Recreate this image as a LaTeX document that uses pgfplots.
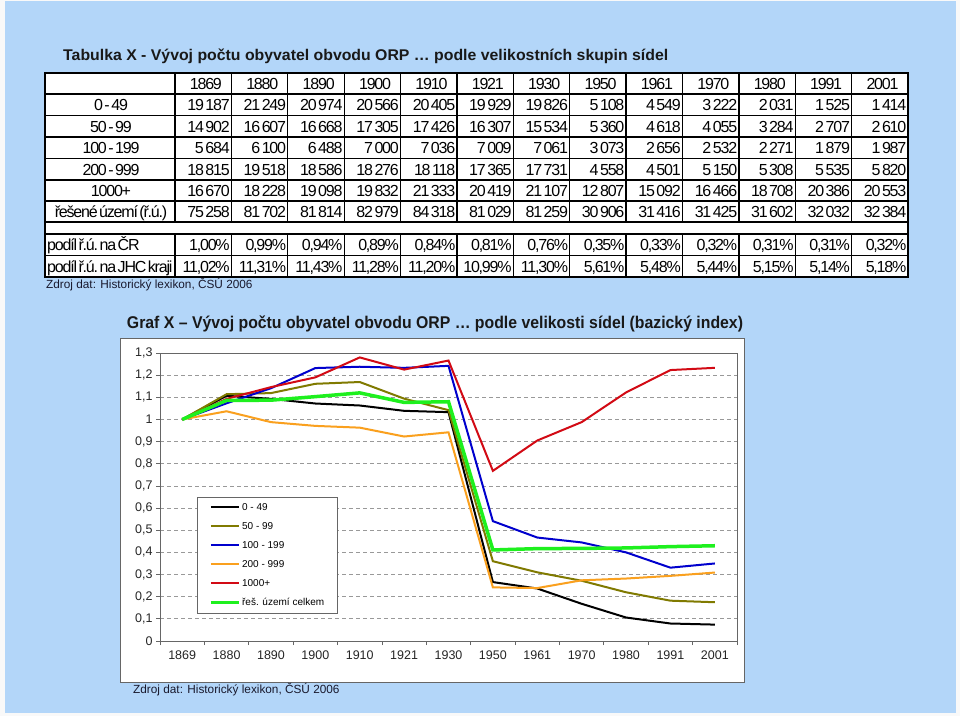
\documentclass[border=0pt]{standalone}
\usepackage{pgfplots}
\pgfplotsset{compat=1.18}
\usepackage{fontspec}
\setmainfont{Liberation Sans}
\newfontfamily\tabfont[LetterSpace=-7.5]{Liberation Sans}
\definecolor{bgblue}{RGB}{179,214,249}
\definecolor{srcc}{RGB}{25,25,45}
\definecolor{cblack}{RGB}{0,0,0}
\definecolor{colive}{RGB}{128,122,0}
\definecolor{cblue}{RGB}{0,0,205}
\definecolor{corange}{RGB}{250,160,30}
\definecolor{cred}{RGB}{210,10,20}
\definecolor{cgreen}{RGB}{30,240,30}
\newcommand\s{\kern1.5pt}
\newcommand\tabrow[2]{%
  \foreach \v [count=\i] in {#2} {\node[anchor=base east, inner sep=0pt] at ({(175+56.385*\i-1.5)*1pt},#1pt) {\v};}}
\begin{document}
\begin{tikzpicture}
\useasboundingbox (0pt,0pt) rectangle (960pt,716pt);
\fill[white!95!gray] (0pt,0pt) rectangle (960pt,716pt);
\fill[bgblue] (5pt,3pt) rectangle (956pt,715pt);
% table title
\node[anchor=west, inner sep=0pt, text=black!90] at (63pt,660pt) {\resizebox{605pt}{\height}{\fontsize{15.5}{18}\selectfont\bfseries Tabulka X - Vývoj počtu obyvatel obvodu ORP … podle velikostních skupin sídel}};
% table
\fill[white] (45pt,439pt) rectangle (908pt,643pt);
\foreach \yy in {622,600.5,579,557.5,536,515,494,482,460.5}
  \draw[line width=1.3pt] (45pt,\yy pt) -- (908pt,\yy pt);
\foreach \k in {0,...,12} {
  \draw[line width=1.3pt] ({(175+56.385*\k)*1pt},643pt) -- ({(175+56.385*\k)*1pt},494pt);
  \draw[line width=1.3pt] ({(175+56.385*\k)*1pt},482pt) -- ({(175+56.385*\k)*1pt},439pt);
}
\draw[line width=2pt] (45pt,439pt) rectangle (908pt,643pt);
\begin{scope}[every node/.append style={font=\tabfont\fontsize{16}{18}\selectfont}]
\foreach \yr [count=\i] in {1869,1880,1890,1900,1910,1921,1930,1950,1961,1970,1980,1991,2001}
  \node[anchor=base, inner sep=0pt] at ({(175+56.385*\i-25.5)*1pt},626.7pt) {\yr};
\node[anchor=base, inner sep=0pt] at (111pt,605.4pt) {0\s-\s49};
\node[anchor=base, inner sep=0pt] at (111pt,583.9pt) {50\s-\s99};
\node[anchor=base, inner sep=0pt] at (111pt,562.4pt) {100\s-\s199};
\node[anchor=base, inner sep=0pt] at (111pt,540.9pt) {200\s-\s999};
\node[anchor=base, inner sep=0pt] at (111pt,519.7pt) {1000+};
\node[anchor=base, inner sep=0pt] at (111pt,498.7pt) {řešené\s území\s (ř.ú.)};
\node[anchor=base west, inner sep=0pt] at (47pt,465.4pt) {podíl\s ř.ú.\s na\s ČR};
\node[anchor=base west, inner sep=0pt] at (47pt,443.9pt) {podíl\s ř.ú.\s na\s JHC\s kraji};
\tabrow{605.4}{19\s187,21\s249,20\s974,20\s566,20\s405,19\s929,19\s826,5\s108,4\s549,3\s222,2\s031,1\s525,1\s414}
\tabrow{583.9}{14\s902,16\s607,16\s668,17\s305,17\s426,16\s307,15\s534,5\s360,4\s618,4\s055,3\s284,2\s707,2\s610}
\tabrow{562.4}{5\s684,6\s100,6\s488,7\s000,7\s036,7\s009,7\s061,3\s073,2\s656,2\s532,2\s271,1\s879,1\s987}
\tabrow{540.9}{18\s815,19\s518,18\s586,18\s276,18\s118,17\s365,17\s731,4\s558,4\s501,5\s150,5\s308,5\s535,5\s820}
\tabrow{519.7}{16\s670,18\s228,19\s098,19\s832,21\s333,20\s419,21\s107,12\s807,15\s092,16\s466,18\s708,20\s386,20\s553}
\tabrow{498.7}{75\s258,81\s702,81\s814,82\s979,84\s318,81\s029,81\s259,30\s906,31\s416,31\s425,31\s602,32\s032,32\s384}
\tabrow{465.4}{{1,00\%},{0,99\%},{0,94\%},{0,89\%},{0,84\%},{0,81\%},{0,76\%},{0,35\%},{0,33\%},{0,32\%},{0,31\%},{0,31\%},{0,32\%}}
\tabrow{443.9}{{11,02\%},{11,31\%},{11,43\%},{11,28\%},{11,20\%},{10,99\%},{11,30\%},{5,61\%},{5,48\%},{5,44\%},{5,15\%},{5,14\%},{5,18\%}}
\end{scope}
\node[anchor=west, inner sep=0pt, text=srcc, font=\fontsize{11.8}{14}\selectfont] at (46pt,431pt) {Zdroj dat: Historický lexikon, ČSÚ 2006};
% chart
\node[inner sep=0pt, text=black!90] at (435pt,392pt) {\resizebox{616pt}{\height}{\fontsize{17}{20}\selectfont\bfseries Graf X – Vývoj počtu obyvatel obvodu ORP … podle velikosti sídel (bazický index)}};
\filldraw[fill=white, draw=gray!80!black, line width=1pt] (120pt,34pt) rectangle (744pt,378pt);
\begin{axis}[
  at={(160pt,75pt)}, anchor=south west, scale only axis,
  width=577pt, height=288pt,
  xmin=-0.5, xmax=12.5, ymin=0, ymax=1.3,
  xtick={0,...,12},
  xticklabels={1869,1880,1890,1900,1910,1921,1930,1950,1961,1970,1980,1991,2001},
  minor xtick={-0.5,0.5,...,12.5},
  ytick={0,0.1,0.2,0.3,0.4,0.5,0.6,0.7,0.8,0.9,1,1.1,1.2,1.3},
  xtick pos=left, ytick pos=left,
  tick align=outside, major tick length=4pt, minor tick length=4pt,
  major x tick style={draw=none},
  tick style={gray!80!black, line width=0.8pt},
  axis line style={gray!80!black, line width=0.8pt},
  ymajorgrids, grid style={dash pattern=on 4pt off 3pt, gray!80, line width=0.8pt},
  /pgf/number format/assume math mode=true,
  yticklabel style={/pgf/number format/.cd, fixed, precision=1, use comma},
  tick label style={font=\fontsize{12.5}{14}\selectfont, text=black!85},
  xticklabel style={yshift=-2pt},
  legend style={at={(0.064,0.5)}, anchor=north west, draw=gray!80!black, fill=white,
    font=\fontsize{10}{12}\selectfont, inner xsep=12pt, inner ysep=4pt, row sep=6.5pt,
    nodes={inner sep=1.5pt, text height=7.5pt, text depth=2pt}},
  legend cell align=left,
  legend image code/.code={\draw[#1] (0pt,0pt) -- (28pt,0pt);},
]
\addplot[cblack, line width=2pt] coordinates {(0,1) (1,1.107) (2,1.093) (3,1.072) (4,1.063) (5,1.039) (6,1.033) (7,0.266) (8,0.237) (9,0.168) (10,0.106) (11,0.079) (12,0.074)};
\addlegendentry{0 - 49}
\addplot[colive, line width=2pt] coordinates {(0,1) (1,1.114) (2,1.119) (3,1.161) (4,1.169) (5,1.094) (6,1.042) (7,0.360) (8,0.310) (9,0.272) (10,0.220) (11,0.182) (12,0.175)};
\addlegendentry{50 - 99}
\addplot[cblue, line width=2pt] coordinates {(0,1) (1,1.073) (2,1.141) (3,1.232) (4,1.238) (5,1.233) (6,1.242) (7,0.541) (8,0.467) (9,0.445) (10,0.400) (11,0.331) (12,0.350)};
\addlegendentry{100 - 199}
\addplot[corange, line width=2pt] coordinates {(0,1) (1,1.037) (2,0.988) (3,0.971) (4,0.963) (5,0.923) (6,0.942) (7,0.242) (8,0.239) (9,0.274) (10,0.282) (11,0.294) (12,0.309)};
\addlegendentry{200 - 999}
\addplot[cred, line width=2pt] coordinates {(0,1) (1,1.093) (2,1.146) (3,1.190) (4,1.280) (5,1.225) (6,1.266) (7,0.768) (8,0.905) (9,0.988) (10,1.122) (11,1.223) (12,1.233)};
\addlegendentry{1000+}
\addplot[cgreen, line width=3.5pt] coordinates {(0,1) (1,1.086) (2,1.087) (3,1.103) (4,1.120) (5,1.077) (6,1.080) (7,0.411) (8,0.417) (9,0.418) (10,0.420) (11,0.426) (12,0.430)};
\addlegendentry{řeš. území celkem}
\end{axis}
\node[anchor=west, inner sep=0pt, text=srcc, font=\fontsize{11.8}{14}\selectfont] at (133pt,26pt) {Zdroj dat: Historický lexikon, ČSÚ 2006};
\end{tikzpicture}
\end{document}
